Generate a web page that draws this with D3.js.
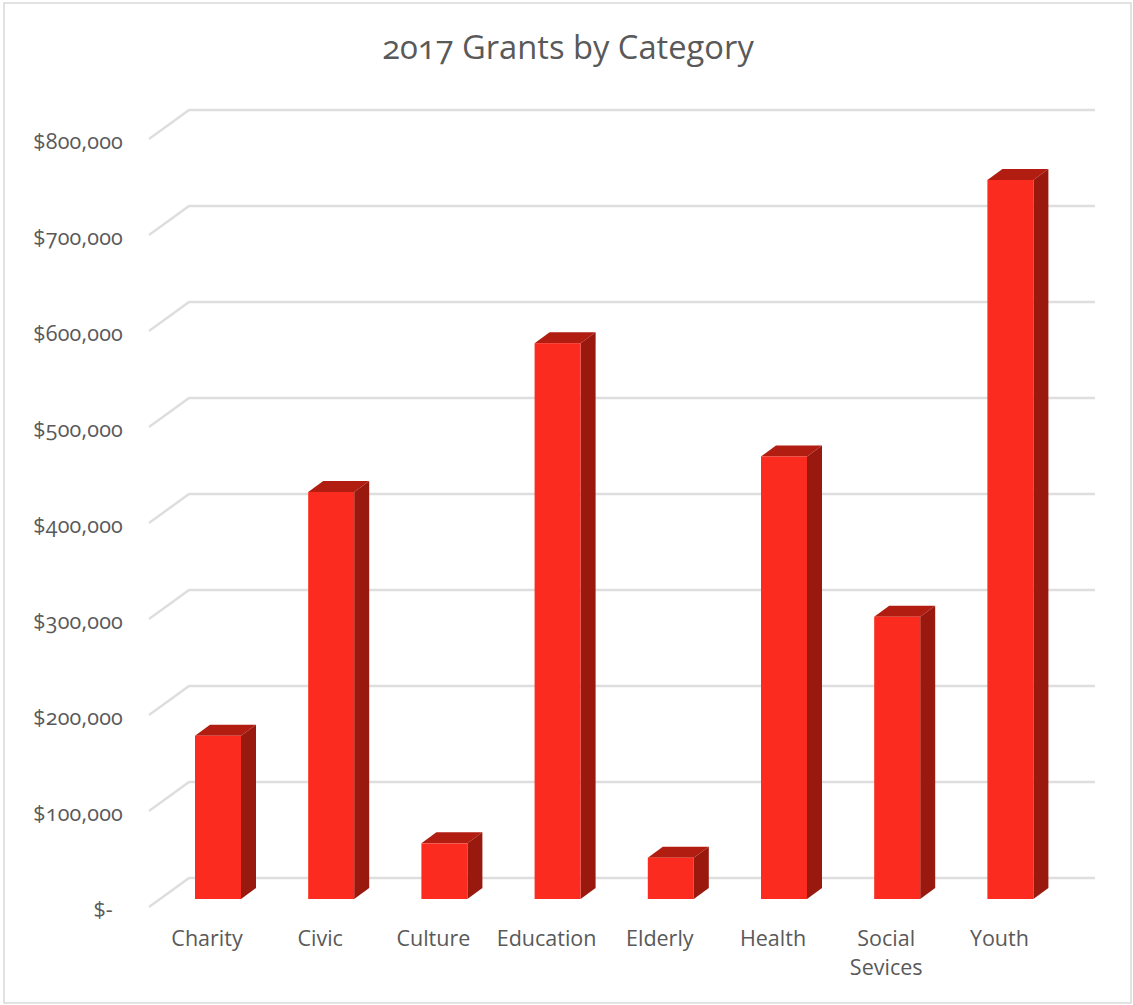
<!DOCTYPE html>
<html>
<head>
<meta charset="utf-8">
<script src="https://cdn.jsdelivr.net/npm/d3@7"></script>
<style>
  html, body { margin: 0; padding: 0; background: #fff; }
  svg { display: block; }
  text { font-family: "Open Sans", sans-serif; fill: #595959; font-variant-numeric: oldstyle-nums; }
  .axis path, .axis line { display: none; }
  .title { font-size: 32.7px; }
  .axis text { font-size: 21.5px; }
  .y-axis text { letter-spacing: 0.2px; }
</style>
</head>
<body>
<svg id="chart"></svg>
<script>
const categories = ["Charity", "Civic", "Culture", "Education", "Elderly", "Health", "Social Sevices", "Youth"];
const grants = [170000, 424000, 58000, 579000, 43000, 461000, 294000, 749000];
const yTicks = [0, 100000, 200000, 300000, 400000, 500000, 600000, 700000, 800000];

const width = 1133;
const height = 1005;

const svg = d3.select("#chart")
  .attr("width", width)
  .attr("height", height);

// outer frame
svg.append("rect")
  .attr("x", 4)
  .attr("y", 3)
  .attr("width", 1127)
  .attr("height", 1000)
  .attr("fill", "#fff")
  .attr("stroke", "#d9d9d9")
  .attr("stroke-width", 1.5);

svg.append("text")
  .attr("class", "title")
  .attr("x", 568)
  .attr("y", 59)
  .attr("text-anchor", "middle")
  .text("2017 Grants by Category");

// scales
const xScale = d3.scaleBand()
  .domain(categories)
  .range([150.4, 1056]);

const yScale = d3.scaleLinear()
  .domain([0, 800000])
  .range([907, 139]);

// gridlines run along the floor then across the back wall
const wallX = 40;
const wallY = -29;
const wallRight = 1095;

svg.append("g")
  .selectAll("path")
  .data(yTicks)
  .enter()
  .append("path")
  .attr("d", (d) => `M149,${yScale(d)}L${149 + wallX},${yScale(d) + wallY}H${wallRight}`)
  .attr("fill", "none")
  .attr("stroke", "#dedede")
  .attr("stroke-width", 2.5);

// bars sit a little way back from the front plane
const barInsetX = 11;
const barInsetY = -8;
const barWidth = 46;
const depthX = 15;
const depthY = -11;

const bars = svg.append("g")
  .selectAll("g")
  .data(categories.map((c, i) => ({ category: c, value: grants[i] })))
  .enter()
  .append("g")
  .attr("transform", (d) => {
    const cx = xScale(d.category) + xScale.bandwidth() / 2 + barInsetX;
    return `translate(${cx - barWidth / 2}, ${barInsetY})`;
  });

bars.append("path")
  .attr("fill", "#b21d11")
  .attr("d", (d) => {
    const t = yScale(d.value);
    return `M0,${t}l${depthX},${depthY}h${barWidth}l${-depthX},${-depthY}Z`;
  });

bars.append("path")
  .attr("fill", "#99190f")
  .attr("d", (d) => {
    const t = yScale(d.value);
    const b = yScale(0);
    return `M${barWidth},${t}l${depthX},${depthY}V${b + depthY}l${-depthX},${-depthY}Z`;
  });

bars.append("rect")
  .attr("fill", "#fb2c1f")
  .attr("x", 0)
  .attr("y", (d) => yScale(d.value))
  .attr("width", barWidth)
  .attr("height", (d) => yScale(0) - yScale(d.value));

// axes
const yAxis = d3.axisLeft(yScale)
  .tickValues(yTicks)
  .tickSize(0)
  .tickPadding(0)
  .tickFormat((d) => d === 0 ? "$-" : d3.format("$,")(d));

const yG = svg.append("g")
  .attr("class", "axis y-axis")
  .attr("transform", "translate(123, 3)")
  .call(yAxis);

yG.selectAll("text")
  .attr("dx", (d) => d === 0 ? -10 : 0);

const xAxis = d3.axisBottom(xScale)
  .tickSize(0)
  .tickPadding(0);

const xG = svg.append("g")
  .attr("class", "axis")
  .attr("transform", "translate(0, 931)")
  .call(xAxis);

// two word labels wrap onto a second line
xG.selectAll("text").each(function (d) {
  const words = d.split(" ");
  const label = d3.select(this).text(null);
  words.forEach((w, i) => {
    label.append("tspan")
      .attr("x", 0)
      .attr("dy", i === 0 ? "0.71em" : "29px")
      .text(w);
  });
});
</script>
</body>
</html>
